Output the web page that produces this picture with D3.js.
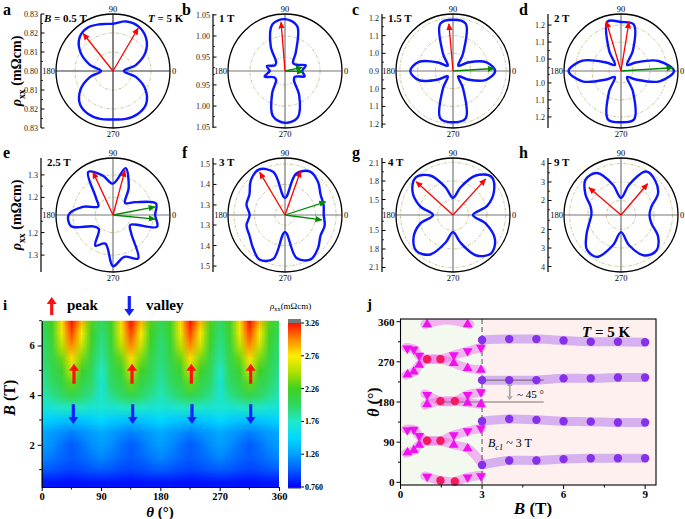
<!DOCTYPE html>
<html><head><meta charset="utf-8">
<script src="https://cdn.jsdelivr.net/npm/d3@7/dist/d3.min.js"></script>
<style>
body{margin:0;background:#fff;}
svg{display:block}
svg text{font-family:"Liberation Serif","Times New Roman",serif;}
</style></head>
<body>
<svg id="fig" width="685" height="519" xmlns="http://www.w3.org/2000/svg"></svg>
<script>
// ======================= DATA =======================
// ---- panels a-h : polar plots of rho_xx(theta) ----
const polarAngles = [0,15,30,45,60,75,90,105,120,135,150,165,180,195,210,225,240,255,270,285,300,315,330,345];
const panelLetters = ["a","b","c","d","e","f","g","h"];
const fieldLabels  = ["0.5 T","1 T","1.5 T","2 T","2.5 T","3 T","4 T","9 T"];
// normalized rho (0 = value at centre, 1 = outer ring) at polarAngles
const rhoA = [0.19,0.42,0.66,0.82,0.90,0.90,0.83,0.85,0.88,0.83,0.66,0.42,0.21,0.42,0.66,0.82,0.87,0.87,0.85,0.87,0.87,0.82,0.66,0.42];
const rhoB = [0.30,0.38,0.22,0.20,0.38,0.82,0.91,0.85,0.50,0.22,0.20,0.33,0.27,0.37,0.22,0.22,0.45,0.82,0.91,0.85,0.50,0.22,0.20,0.36];
const rhoC = [0.74,0.60,0.30,0.13,0.35,0.86,0.90,0.86,0.35,0.13,0.30,0.62,0.75,0.62,0.30,0.13,0.35,0.86,0.90,0.86,0.35,0.13,0.30,0.60];
const rhoD = [0.93,0.68,0.30,0.15,0.42,0.85,0.86,0.90,0.42,0.15,0.30,0.70,0.92,0.70,0.30,0.15,0.42,0.88,0.90,0.88,0.42,0.15,0.30,0.70];
const rhoE = [0.74,0.78,0.45,0.30,0.55,0.85,0.55,0.72,0.87,0.42,0.30,0.55,0.78,0.76,0.40,0.35,0.62,0.52,0.90,0.76,0.88,0.45,0.35,0.80];
const rhoF = [0.68,0.70,0.72,0.82,0.88,0.75,0.30,0.78,0.92,0.85,0.72,0.70,0.62,0.70,0.72,0.80,0.90,0.80,0.30,0.78,0.90,0.82,0.72,0.72];
const rhoG = [0.35,0.62,0.83,0.95,0.80,0.50,0.30,0.50,0.80,0.93,0.82,0.60,0.35,0.60,0.80,0.90,0.80,0.50,0.30,0.50,0.82,0.95,0.85,0.60];
const rhoH = [0.50,0.55,0.75,0.85,0.88,0.55,0.30,0.55,0.85,0.88,0.72,0.55,0.52,0.58,0.70,0.85,0.85,0.55,0.30,0.55,0.82,0.88,0.75,0.55];
// radial axis: value at centre, value at outer ring (mOhm cm) and tick values
const radialDomains = [[0.80,0.83],[0.917,1.052],[0.9,1.222],[0.93,1.265],[1.122,1.375],[1.251,1.529],[1.249,2.173],[1.216,4.297]];
const radialTicks   = [[0.81,0.82,0.83],[0.95,1.00,1.05],[1.0,1.1,1.2],[1.0,1.1,1.2],[1.2,1.3],[1.3,1.4,1.5],[1.5,1.8,2.1],[2,3,4]];
const tickFormats   = [".2f",".2f",".1f",".1f",".1f",".1f",".1f",".0f"];
const centreLabels  = ["0.80","","0.9","","","","",""];
const angleLabels   = ["0","90","180","270"];
// arrows: [angle (deg), normalized length]
const peakArrows   = [[[128.5,0.84],[59.6,0.87]],[[94.6,0.86]],[[95,0.83]],[[106.6,0.91],[80.8,0.87]],[[115,0.83],[75,0.81]],[[120.6,0.87],[70.5,0.82]],[[138,0.87],[47.8,0.85]],[[139.5,0.74],[49.6,0.72]]];
const valleyArrows = [[],[[12,0.31],[-2,0.32]],[[3.5,0.72]],[[3.6,0.91]],[[11,0.75],[-5.5,0.74]],[[18,0.75],[-7.6,0.65]],[],[]];

// ---- panel i : colour map rho_xx(theta, B) ----
const hmTheta = [0,15,30,45,60,75,90,105,120,135,150,165,180,195,210,225,240,255,270,285,300,315,330,345,360];
const hmB = [7.0,6.5,6.0,5.5,5.0,4.5,4.0,3.5,3.0,2.5,2.0,1.5,1.0,0.5];
const hmRows = [
 [2.05,2.25,2.8,3.26,2.9,2.3, 2.0,2.25,2.8,3.26,2.9,2.3, 2.05,2.25,2.8,3.26,2.9,2.3, 2.0,2.25,2.8,3.26,2.9,2.3, 2.05],
 [2.0,2.2,2.7,3.15,2.75,2.25, 1.95,2.2,2.7,3.15,2.75,2.25, 2.0,2.2,2.7,3.15,2.75,2.25, 1.95,2.2,2.7,3.15,2.75,2.25, 2.0],
 [1.95,2.15,2.55,3.0,2.6,2.2, 1.9,2.15,2.55,3.0,2.6,2.2, 1.95,2.15,2.55,3.0,2.6,2.2, 1.9,2.15,2.55,3.0,2.6,2.2, 1.95],
 [1.95,2.1,2.35,2.8,2.4,2.1, 1.85,2.1,2.35,2.8,2.4,2.1, 1.95,2.1,2.35,2.8,2.4,2.1, 1.85,2.1,2.35,2.8,2.4,2.1, 1.95],
 [1.9,2.05,2.2,2.6,2.25,2.05, 1.75,2.05,2.2,2.6,2.25,2.05, 1.9,2.05,2.2,2.6,2.25,2.05, 1.75,2.05,2.2,2.6,2.25,2.05, 1.9],
 [1.85,2.0,2.1,2.35,2.1,2.0, 1.7,2.0,2.1,2.35,2.1,2.0, 1.85,2.0,2.1,2.35,2.1,2.0, 1.7,2.0,2.1,2.35,2.1,2.0, 1.85],
 [1.8,1.9,2.0,2.1,2.0,1.9, 1.7,1.9,2.0,2.1,2.0,1.9, 1.8,1.9,2.0,2.1,2.0,1.9, 1.7,1.9,2.0,2.1,2.0,1.9, 1.8],
 [1.68,1.7,1.75,1.78,1.75,1.7, 1.72,1.7,1.75,1.78,1.75,1.7, 1.7,1.7,1.75,1.78,1.75,1.7, 1.72,1.7,1.75,1.78,1.75,1.7, 1.68],
 [1.5,1.45,1.42,1.4,1.42,1.45, 1.5,1.45,1.42,1.4,1.42,1.45, 1.5,1.45,1.42,1.4,1.42,1.45, 1.5,1.45,1.42,1.4,1.42,1.45, 1.5],
 [1.3,1.25,1.2,1.15,1.2,1.25, 1.3,1.25,1.2,1.15,1.2,1.25, 1.3,1.25,1.2,1.15,1.2,1.25, 1.3,1.25,1.2,1.15,1.2,1.25, 1.3],
 [1.25,1.2,1.1,1.02,1.1,1.2, 1.25,1.2,1.1,1.02,1.1,1.2, 1.25,1.2,1.1,1.02,1.1,1.2, 1.25,1.2,1.1,1.02,1.1,1.2, 1.25],
 [1.18,1.12,1.06,1.02,1.06,1.12, 1.18,1.12,1.06,1.02,1.06,1.12, 1.18,1.12,1.06,1.02,1.06,1.12, 1.18,1.12,1.06,1.02,1.06,1.12, 1.18],
 [1.02,1.0,0.97,0.95,0.97,1.0, 1.02,1.0,0.97,0.95,0.97,1.0, 1.02,1.0,0.97,0.95,0.97,1.0, 1.02,1.0,0.97,0.95,0.97,1.0, 1.02],
 [0.82,0.82,0.81,0.8,0.81,0.82, 0.82,0.82,0.81,0.8,0.81,0.82, 0.82,0.82,0.81,0.8,0.81,0.82, 0.82,0.82,0.81,0.8,0.81,0.82, 0.82]
];
const colorStopValues = [0.76,1.0,1.26,1.5,1.76,2.01,2.26,2.51,2.76,3.01,3.26];
const colorStopColors = ["#0000ff","#0055ff","#00a0ff","#00d8ff","#20e8c8","#30d860","#40d020","#b0e000","#ffee00","#ff8800","#ff1000"];
const colorbarTicks = [0.76,1.26,1.76,2.26,2.76,3.26];
const colorbarLabels = ["0.760","1.26","1.76","2.26","2.76","3.26"];
const thetaTicks = [0,90,180,270,360];
const bTicksI = [2,4,6];
const peakThetaI = [49,137,227,317];
const valleyThetaI = [48,138,228,317];

// ---- panel j : theta of peaks / valleys vs B ----
const jDownTri = [[0.25,300],[0.49,298],[0.69,284],[1.96,285],[2.47,294],[2.96,302],[0.98,196],[2.47,196],[2.96,202],[0.25,117],[0.49,118],[0.69,104],[1.96,106],[2.47,115],[2.96,121],[0.98,13],[2.47,11],[2.96,14]];
const jUpTri = [[0.26,242],[0.49,248],[0.69,263],[1.96,267],[2.47,256],[2.96,252],[0.98,175],[2.47,178],[2.96,175],[0.26,67],[0.49,72],[0.69,84],[1.96,84],[2.47,76],[0.98,354],[2.47,354]];
const jRedCircles = [[0.98,276],[1.47,276],[0.98,93],[1.47,93],[1.47,182],[2.0,182],[1.47,4],[2.0,2]];
const jPurpleB = [3,4,5,6,7,8,9];
const jPurple315 = [319,321,321,318,315,315,314];
const jPurple230 = [229,229,229,233,233,235,235];
const jPurple140 = [137,142,140,137,136,134,134];
const jPurple50  = [39,49,49,52,54,54,54];
const jPinkBands = [
 [[0.2,302],[0.49,298],[0.69,284],[0.98,276],[1.47,276],[1.96,267],[2.47,256],[2.96,252]],
 [[0.2,240],[0.49,248],[0.69,263],[0.98,276],[1.47,276],[1.96,285],[2.47,294],[2.96,302]],
 [[0.9,198],[1.47,182],[2.0,182],[2.47,196],[2.96,202]],
 [[0.9,173],[1.47,182],[2.0,182],[2.47,178],[2.96,175]],
 [[0.2,119],[0.49,118],[0.69,104],[0.98,93],[1.47,93],[1.96,84],[2.47,76],[2.96,45]],
 [[0.2,65],[0.49,72],[0.69,84],[0.98,93],[1.47,93],[1.96,106],[2.47,115],[2.96,121]],
 [[0.9,14],[1.47,4],[2.0,2],[2.47,11],[2.96,16]],
 [[0.9,354],[1.7,364],[2.55,354]]
];
const jThetaTicks = [0,90,180,270,360];
const jBTicks = [0,3,6,9];

// ======================= DRAWING =======================
const svg = d3.select("#fig");
svg.append("rect").attr("width",685).attr("height",519).attr("fill","#fff");
const defs = svg.append("defs");
function marker(id,color,w){
  defs.append("marker").attr("id",id).attr("viewBox","0 0 10 10").attr("refX",9).attr("refY",5)
    .attr("markerWidth",w).attr("markerHeight",w).attr("markerUnits","userSpaceOnUse").attr("orient","auto")
    .append("path").attr("d","M0,0.5 L10,5 L0,9.5 z").attr("fill",color);
}
marker("ahRed","#ff0000",7); marker("ahGreen","#008a00",7);

function rich(parent,x,y,parts,size,anchor){
  const t = parent.append("text").attr("x",x).attr("y",y).attr("font-size",size).attr("text-anchor",anchor||"start").attr("fill","#000");
  parts.forEach(p=>{
    const s = t.append("tspan").text(p.t);
    if(p.i) s.attr("font-style","italic");
    if(p.b!==false) s.attr("font-weight","bold");
    if(p.sub){ s.attr("font-size",size*0.7).attr("dy",size*0.25); }
    if(p.up){ s.attr("dy",-size*0.25); }
  });
  return t;
}

// ---------- polar panels ----------
const R = 57;
const colCx = [113,285,453,621], colAx = [41,213,382,548], rowCy = [71,215];
const letterX = [3,182,352,519], letterY = [15,158];
const norm = d3.scaleLinear().domain([0,1]).range([0,R]);
const curveSets = [rhoA,rhoB,rhoC,rhoD,rhoE,rhoF,rhoG,rhoH];
const radial = d3.lineRadial().angle(d=>(90-d.a)*Math.PI/180).radius(d=>norm(d.r)).curve(d3.curveCatmullRomClosed.alpha(0.5));

curveSets.forEach((rho,i)=>{
  const col=i%4, row=Math.floor(i/4);
  const cx=colCx[col], cy=rowCy[row], ax=colAx[col];
  const g = svg.append("g");
  const rs = d3.scaleLinear().domain(radialDomains[i]).range([0,R]);
  radialTicks[i].filter(t=>rs(t)<R-3).forEach(t=>{
    g.append("circle").attr("cx",cx).attr("cy",cy).attr("r",rs(t)).attr("fill","none")
     .attr("stroke","#bdb77a").attr("stroke-width",0.8).attr("stroke-dasharray","3,1.5,1,1.5");
  });
  const lineCol = i===0 ? "#333" : "#777";
  g.append("line").attr("x1",cx-R).attr("x2",cx+R).attr("y1",cy).attr("y2",cy).attr("stroke",lineCol).attr("stroke-width",1.2);
  g.append("line").attr("x1",cx).attr("x2",cx).attr("y1",cy-R).attr("y2",cy+R).attr("stroke",lineCol).attr("stroke-width",1.2);
  const pts = polarAngles.map((a,k)=>({a:a,r:rho[k]}));
  g.append("path").attr("transform",`translate(${cx},${cy})`).attr("d",radial(pts))
   .attr("fill","none").attr("stroke","#0a14ff").attr("stroke-width",2.4);
  const arr=(list,id,color)=>list.forEach(([a,r])=>{
    const t=a*Math.PI/180;
    g.append("line").attr("x1",cx).attr("y1",cy).attr("x2",cx+norm(r)*Math.cos(t)).attr("y2",cy-norm(r)*Math.sin(t))
     .attr("stroke",color).attr("stroke-width",1.3).attr("marker-end",`url(#${id})`);
  });
  arr(peakArrows[i],"ahRed","#ff0000");
  arr(valleyArrows[i],"ahGreen","#008a00");
  g.append("circle").attr("cx",cx).attr("cy",cy).attr("r",R).attr("fill","none").attr("stroke","#000").attr("stroke-width",1.3);
  const fs=8.5;
  g.append("text").attr("x",cx+R+2).attr("y",cy+3).attr("font-size",fs).text(angleLabels[0]);
  g.append("text").attr("x",cx).attr("y",cy-R-2).attr("font-size",fs).attr("text-anchor","middle").text(angleLabels[1]);
  g.append("text").attr("x",cx-R-1).attr("y",cy+3).attr("font-size",fs).attr("text-anchor","end").text(angleLabels[2]);
  g.append("text").attr("x",cx).attr("y",cy+R+9).attr("font-size",fs).attr("text-anchor","middle").text(angleLabels[3]);
  g.append("line").attr("x1",ax).attr("x2",ax).attr("y1",cy-R).attr("y2",cy+R).attr("stroke","#000").attr("stroke-width",1.2);
  const fmt=d3.format(tickFormats[i]);
  const tks = radialTicks[i];
  const stepv = tks.length>1 ? tks[1]-tks[0] : 0.1;
  tks.forEach(t=>{
    [-1,1].forEach(s=>{
      const y=cy+s*rs(t);
      g.append("line").attr("x1",ax).attr("x2",ax+3.5).attr("y1",y).attr("y2",y).attr("stroke","#000").attr("stroke-width",1);
      const ym=cy+s*rs(t-stepv/2);
      if(rs(t-stepv/2)>2) g.append("line").attr("x1",ax).attr("x2",ax+2).attr("y1",ym).attr("y2",ym).attr("stroke","#000").attr("stroke-width",0.8);
      g.append("text").attr("x",ax-3).attr("y",y+3).attr("font-size",8).attr("text-anchor","end").attr("fill","#222").text(fmt(t));
    });
  });
  if(centreLabels[i]) g.append("text").attr("x",ax-3).attr("y",cy+3).attr("font-size",8).attr("text-anchor","end").attr("fill","#222").text(centreLabels[i]);
  g.append("text").attr("x",letterX[col]).attr("y",letterY[row]).attr("font-size",16).attr("font-weight","bold").text(panelLetters[i]);
  if(i===0){
    rich(g,ax+3,22,[{t:"B",i:true},{t:" = "+fieldLabels[0]}],11);
    rich(g,148,22,[{t:"T",i:true},{t:" = 5 K"}],11);
  } else {
    rich(g,ax+6,cy-49,[{t:fieldLabels[i]}],11);
  }
});
rowCy.forEach(cy=>{
  const t=rich(svg,0,0,[{t:"ρ",i:true},{t:"xx",sub:true},{t:" (mΩcm)",up:true}],14,"middle");
  t.attr("transform",`translate(21,${cy}) rotate(-90)`);
});

// ---------- panel i ----------
const gi = svg.append("g");
const xI = d3.scaleLinear().domain([0,360]).range([41.7,279]);
const yI = d3.scaleLinear().domain([0.3,7]).range([487,320.7]);
const cmap = d3.scaleLinear().domain(colorStopValues).range(colorStopColors).clamp(true);
defs.append("clipPath").attr("id","clipI").append("rect").attr("x",xI(0)).attr("y",yI(7)).attr("width",xI(360)-xI(0)).attr("height",yI(0.3)-yI(7));
const cv=document.createElement("canvas"); cv.width=hmTheta.length; cv.height=hmB.length;
const ctx=cv.getContext("2d"); const img=ctx.createImageData(cv.width,cv.height);
hmRows.forEach((row,j)=>row.forEach((v,k)=>{const c=d3.rgb(cmap(v)); const o=(j*cv.width+k)*4; img.data[o]=c.r; img.data[o+1]=c.g; img.data[o+2]=c.b; img.data[o+3]=255;}));
ctx.putImageData(img,0,0);
const dTh = hmTheta[1]-hmTheta[0], dB = hmB[0]-hmB[1];
gi.append("image").attr("href",cv.toDataURL()).attr("preserveAspectRatio","none")
  .attr("x",xI(hmTheta[0]-dTh/2)).attr("y",yI(hmB[0]+dB/2))
  .attr("width",xI(hmTheta[hmTheta.length-1]+dTh/2)-xI(hmTheta[0]-dTh/2))
  .attr("height",yI(hmB[hmB.length-1]-dB/2)-yI(hmB[0]+dB/2))
  .attr("clip-path","url(#clipI)").style("image-rendering","auto");
const axI = gi.append("g").attr("transform",`translate(0,${yI(0.3)})`).call(d3.axisBottom(xI).tickValues(thetaTicks).tickSize(4).tickPadding(2).tickSizeOuter(0).tickFormat(d3.format("d")));
const ayI = gi.append("g").attr("transform",`translate(${xI(0)},0)`).call(d3.axisLeft(yI).tickValues(bTicksI).tickSize(4).tickSizeOuter(0).tickFormat(d3.format("d")));
[axI,ayI].forEach(a=>{a.selectAll("text").attr("font-size",10.5).attr("font-weight","bold").attr("font-family","Liberation Serif").attr("fill","#000"); a.select(".domain").attr("stroke-width",1.2);});
[45,135,225,315].forEach(t=>gi.append("line").attr("x1",xI(t)).attr("x2",xI(t)).attr("y1",yI(0.3)).attr("y2",yI(0.3)+2.5).attr("stroke","#000"));
[1,3,5,7].forEach(b=>gi.append("line").attr("x1",xI(0)).attr("x2",xI(0)-2.5).attr("y1",yI(b)).attr("y2",yI(b)).attr("stroke","#000"));
rich(gi,160,517,[{t:"θ",i:true},{t:" (°)"}],15,"middle");
rich(gi,0,0,[{t:"B",i:true},{t:" (T)"}],16,"middle").attr("transform",`translate(15,${yI(3.9)}) rotate(-90)`);
gi.append("text").attr("x",3).attr("y",310).attr("font-size",15).attr("font-weight","bold").text("i");
function blockArrow(g,x,yTail,yTip,color){
  const dir = yTip<yTail ? -1 : 1;
  const hl=7, hw=5, sw=1.6;
  const yb = yTip - dir*hl;
  g.append("path").attr("d",`M${x-sw},${yTail} L${x-sw},${yb} L${x-hw},${yb} L${x},${yTip} L${x+hw},${yb} L${x+sw},${yb} L${x+sw},${yTail} Z`).attr("fill",color);
}
peakThetaI.forEach(t=>blockArrow(gi,xI(t),yI(4.46),yI(5.27),"#ff1010"));
valleyThetaI.forEach(t=>blockArrow(gi,xI(t),yI(3.63),yI(2.84),"#1020ff"));
blockArrow(gi,51.7,315,297,"#ff1010");
gi.append("text").attr("x",67).attr("y",310).attr("font-size",15).attr("font-weight","bold").attr("font-family","Liberation Sans").text("peak");
blockArrow(gi,129.3,296,316,"#1020ff");
gi.append("text").attr("x",146).attr("y",310).attr("font-size",15).attr("font-weight","bold").attr("font-family","Liberation Sans").text("valley");
const cbY = d3.scaleLinear().domain([0.76,3.26]).range([487,323]);
const grad = defs.append("linearGradient").attr("id","cbGrad").attr("x1",0).attr("x2",0).attr("y1",1).attr("y2",0);
colorStopValues.forEach((v,k)=>grad.append("stop").attr("offset",(v-0.76)/(3.26-0.76)).attr("stop-color",colorStopColors[k]));
gi.append("rect").attr("x",288).attr("y",319).attr("width",13).attr("height",4).attr("fill","#777");
gi.append("rect").attr("x",288).attr("y",cbY(3.26)).attr("width",13).attr("height",cbY(0.76)-cbY(3.26)).attr("fill","url(#cbGrad)");
gi.append("rect").attr("x",288).attr("y",487).attr("width",13).attr("height",1.5).attr("fill","#333");
colorbarTicks.forEach((v,k)=>{
  gi.append("line").attr("x1",301).attr("x2",304).attr("y1",cbY(v)).attr("y2",cbY(v)).attr("stroke","#000");
  gi.append("text").attr("x",305).attr("y",cbY(v)+3).attr("font-size",8).attr("font-weight","bold").text(colorbarLabels[k]);
});
rich(gi,270,309,[{t:"ρ",i:true,b:false},{t:"xx",sub:true,b:false},{t:"(mΩcm)",up:true,b:false}],9);

// ---------- panel j ----------
const gj = svg.append("g");
const xJ = d3.scaleLinear().domain([0,9.4]).range([400.5,656]);
const yJ = d3.scaleLinear().domain([-6,366]).range([485,319]);
gj.append("rect").attr("x",xJ(0)).attr("y",yJ(366)).attr("width",xJ(3)-xJ(0)).attr("height",yJ(-6)-yJ(366)).attr("fill","#f3f9ee");
gj.append("rect").attr("x",xJ(3)).attr("y",yJ(366)).attr("width",xJ(9.4)-xJ(3)).attr("height",yJ(-6)-yJ(366)).attr("fill","#fdf0ee");
const bandLine = d3.line().x(d=>xJ(d[0])).y(d=>yJ(d[1])).curve(d3.curveCatmullRom.alpha(0.5));
defs.append("clipPath").attr("id","clipJ").append("rect").attr("x",xJ(0)).attr("y",yJ(366)).attr("width",xJ(9.4)-xJ(0)).attr("height",yJ(-6)-yJ(366));
const gb = gj.append("g").attr("clip-path","url(#clipJ)");
jPinkBands.forEach(b=>gb.append("path").attr("d",bandLine(b)).attr("fill","none").attr("stroke","#ee60ee").attr("stroke-opacity",0.45).attr("stroke-width",9).attr("stroke-linecap","round"));
[jPurple315,jPurple230,jPurple140,jPurple50].forEach(s=>{
  const pts=jPurpleB.map((b,k)=>[b,s[k]]);
  gb.append("path").attr("d",bandLine(pts)).attr("fill","none").attr("stroke","#b070f0").attr("stroke-opacity",0.5).attr("stroke-width",9).attr("stroke-linecap","butt");
});
gj.append("line").attr("x1",xJ(3)).attr("x2",xJ(3)).attr("y1",yJ(366)).attr("y2",yJ(-6)).attr("stroke","#555").attr("stroke-width",1).attr("stroke-dasharray","5,3");
gj.append("line").attr("x1",xJ(3)).attr("x2",xJ(5.27)).attr("y1",yJ(229)).attr("y2",yJ(229)).attr("stroke","#777").attr("stroke-width",1.2);
gj.append("line").attr("x1",xJ(1.28)).attr("x2",xJ(5.27)).attr("y1",yJ(180)).attr("y2",yJ(180)).attr("stroke","#777").attr("stroke-width",1.2);
(function(){const x=xJ(4.02), y1=yJ(225), y2=yJ(184);
 gj.append("line").attr("x1",x).attr("x2",x).attr("y1",y1+3).attr("y2",y2-3).attr("stroke","#aaa").attr("stroke-width",1.8);
 gj.append("path").attr("d",`M${x-3},${y1+4} L${x},${y1} L${x+3},${y1+4} Z M${x-3},${y2-4} L${x},${y2} L${x+3},${y2-4} Z`).attr("fill","#aaa");})();
const triUp = d3.symbol().type(d3.symbolTriangle).size(42);
jDownTri.forEach(d=>gj.append("path").attr("d",triUp()).attr("transform",`translate(${xJ(d[0])},${yJ(d[1])}) rotate(180)`).attr("fill","#f010f0"));
jUpTri.forEach(d=>gj.append("path").attr("d",triUp()).attr("transform",`translate(${xJ(d[0])},${yJ(d[1])})`).attr("fill","#f010f0"));
jRedCircles.forEach(d=>gj.append("circle").attr("cx",xJ(d[0])).attr("cy",yJ(d[1])).attr("r",4.2).attr("fill","#f5195f"));
[jPurple315,jPurple230,jPurple140,jPurple50].forEach(s=>jPurpleB.forEach((b,k)=>gj.append("circle").attr("cx",xJ(b)).attr("cy",yJ(s[k])).attr("r",4.2).attr("fill","#8530ea")));
gj.append("rect").attr("x",xJ(0)).attr("y",yJ(366)).attr("width",xJ(9.4)-xJ(0)).attr("height",yJ(-6)-yJ(366)).attr("fill","none").attr("stroke","#000").attr("stroke-width",1.1);
jBTicks.forEach(b=>{
  gj.append("line").attr("x1",xJ(b)).attr("x2",xJ(b)).attr("y1",yJ(-6)).attr("y2",yJ(-6)+4).attr("stroke","#000");
  gj.append("text").attr("x",xJ(b)).attr("y",498).attr("font-size",11).attr("font-weight","bold").attr("text-anchor","middle").text(b);
});
[1.5,4.5,7.5].forEach(b=>gj.append("line").attr("x1",xJ(b)).attr("x2",xJ(b)).attr("y1",yJ(-6)).attr("y2",yJ(-6)+2.5).attr("stroke","#000"));
jThetaTicks.forEach(t=>{
  gj.append("line").attr("x1",xJ(0)).attr("x2",xJ(0)-4).attr("y1",yJ(t)).attr("y2",yJ(t)).attr("stroke","#000");
  gj.append("text").attr("x",xJ(0)-6).attr("y",yJ(t)+4).attr("font-size",11).attr("font-weight","bold").attr("text-anchor","end").text(t);
});
[45,135,225,315].forEach(t=>gj.append("line").attr("x1",xJ(0)).attr("x2",xJ(0)-2.5).attr("y1",yJ(t)).attr("y2",yJ(t)).attr("stroke","#000"));
rich(gj,533,514,[{t:"B",i:true},{t:" (T)"}],17,"middle");
rich(gj,0,0,[{t:"θ",i:true},{t:" (°)"}],16,"middle").attr("transform",`translate(379,${yJ(180)}) rotate(-90)`);
gj.append("text").attr("x",367).attr("y",309).attr("font-size",15).attr("font-weight","bold").text("j");
rich(gj,582,337,[{t:"T",i:true},{t:" = 5 K"}],15);
gj.append("text").attr("x",517).attr("y",398).attr("font-size",11).text("~ 45 °");
rich(gj,488,447,[{t:"B",i:true,b:false},{t:"c1",i:true,b:false,sub:true},{t:" ~ 3 T",b:false,up:true}],12);
</script>
</body></html>
